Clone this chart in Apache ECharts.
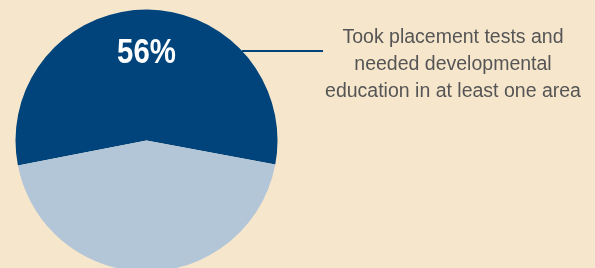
<!DOCTYPE html>
<html>
<head>
<meta charset="utf-8">
<script src="https://cdn.jsdelivr.net/npm/echarts@6/dist/echarts.min.js"></script>
<style>
  html, body { margin: 0; padding: 0; background: #F6E6CC; }
  #chart { width: 595px; height: 268px; }
</style>
</head>
<body>
<div id="chart"></div>
<script>
// placement test results
var names = ['Needed developmental education', 'Other'];
var values = [56, 44];
var colors = ['#01447B', '#B3C6D8'];
var calloutText = ['Took placement tests and', 'needed developmental', 'education in at least one area'];

var myChart = echarts.init(document.getElementById('chart'));
var option = {
	backgroundColor: '#F6E6CC',
	animation: false,
	color: colors,
	series: [
		{
			type: 'pie',
			center: [146.5, 140.5],
			radius: 131,
			startAngle: 191,
			clockwise: true,
			silent: true,
			label: { show: false },
			labelLine: { show: false },
			data: [
				{ value: values[0], name: names[0] },
				{ value: values[1], name: names[1] }
			]
		}
	],
	graphic: [
		{
			// condensed-looking percentage label (no narrow font installed)
			type: 'text',
			z: 100,
			x: 146.5,
			y: 53,
			scaleX: 0.84,
			style: {
				text: values[0] + '%',
				align: 'center',
				verticalAlign: 'middle',
				fill: '#ffffff',
				font: 'bold 35px "Liberation Sans", Arial, sans-serif'
			}
		},
		{
			type: 'line',
			z: 100,
			shape: { x1: 242, y1: 51, x2: 323, y2: 51 },
			style: { stroke: '#01447B', lineWidth: 2 }
		},
		{
			type: 'text',
			z: 100,
			x: 453,
			y: 24,
			style: {
				text: calloutText.join('\n'),
				align: 'center',
				verticalAlign: 'top',
				lineHeight: 27,
				fill: '#555555',
				font: '19.5px "Liberation Sans", Arial, sans-serif'
			}
		}
	]
};
myChart.setOption(option);
</script>
</body>
</html>
